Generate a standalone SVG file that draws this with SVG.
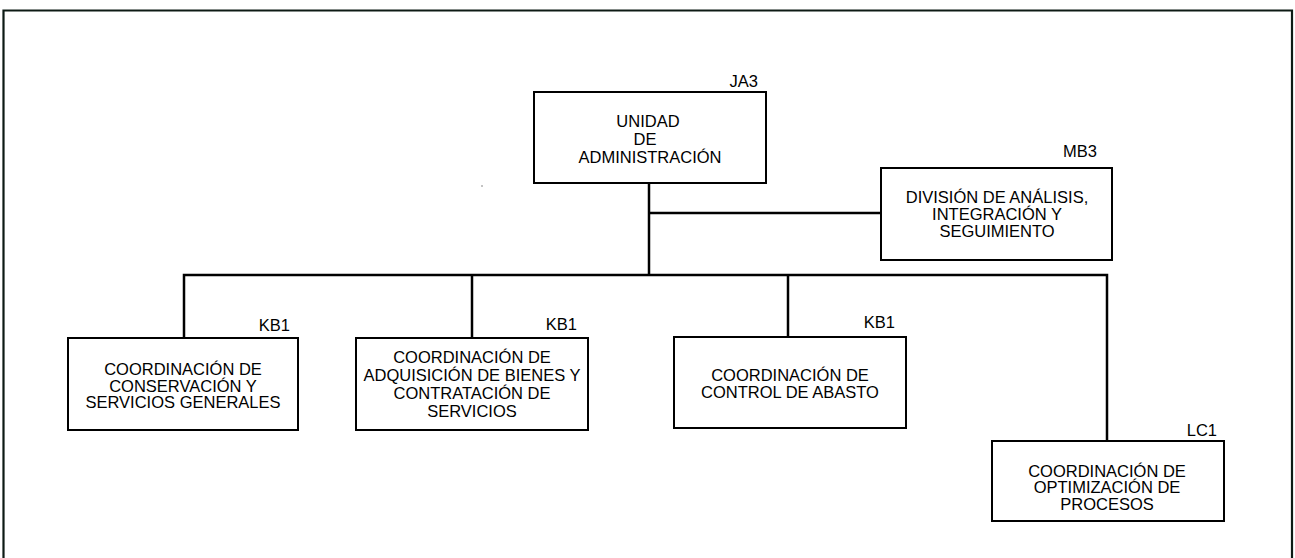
<svg xmlns="http://www.w3.org/2000/svg" width="1295" height="558" viewBox="0 0 1295 558">
<style>
.box{fill:#fff;stroke:#000;stroke-width:2}
.ln{stroke:#000;stroke-width:2.5;fill:none}
text{font-family:"Liberation Sans",Arial,sans-serif;font-size:16.5px;fill:#000}
.c{text-anchor:middle}
.r{text-anchor:end}
</style>
<rect width="1295" height="558" fill="#fff"/>
<path d="M3.5,570 V10.5 H1292 V570" fill="none" stroke="#0d1a14" stroke-width="2.2"/>
<line x1="482" y1="185" x2="482" y2="187" stroke="#888" stroke-width="1"/>
<g id="connectors">
<path class="ln" d="M649,183 V275"/>
<path class="ln" d="M649,213 H881"/>
<path class="ln" d="M184,338 V275 H1107 V441"/>
<path class="ln" d="M472,275 V338"/>
<path class="ln" d="M788,275 V337"/>
</g>
<g id="n-unidad">
<rect class="box" x="534" y="92" width="232" height="91"/>
<text class="r" x="758" y="87">JA3</text>
<text class="c" x="648" y="127">UNIDAD</text>
<text class="c" x="645" y="145">DE</text>
<text class="c" x="650" y="163">ADMINISTRACIÓN</text>
</g>
<g id="n-division">
<rect class="box" x="881" y="168" width="231" height="92"/>
<text class="r" x="1097" y="157">MB3</text>
<text class="c" x="997" y="203">DIVISIÓN DE ANÁLISIS,</text>
<text class="c" x="997" y="220">INTEGRACIÓN Y</text>
<text class="c" x="997" y="237">SEGUIMIENTO</text>
</g>
<g id="n-conservacion">
<rect class="box" x="68" y="338" width="230" height="92"/>
<text class="r" x="290" y="331">KB1</text>
<text class="c" x="183" y="375">COORDINACIÓN DE</text>
<text class="c" x="183" y="392">CONSERVACIÓN Y</text>
<text class="c" x="183" y="408">SERVICIOS GENERALES</text>
</g>
<g id="n-adquisicion">
<rect class="box" x="356" y="338" width="232" height="92"/>
<text class="r" x="577" y="330">KB1</text>
<text class="c" x="472" y="363">COORDINACIÓN DE</text>
<text class="c" x="472" y="381">ADQUISICIÓN DE BIENES Y</text>
<text class="c" x="472" y="399">CONTRATACIÓN DE</text>
<text class="c" x="472" y="417">SERVICIOS</text>
</g>
<g id="n-abasto">
<rect class="box" x="674" y="337" width="232" height="91"/>
<text class="r" x="895" y="328">KB1</text>
<text class="c" x="790" y="381">COORDINACIÓN DE</text>
<text class="c" x="790" y="398">CONTROL DE ABASTO</text>
</g>
<g id="n-optimizacion">
<rect class="box" x="992" y="441" width="232" height="80"/>
<text class="r" x="1217" y="436">LC1</text>
<text class="c" x="1107" y="477">COORDINACIÓN DE</text>
<text class="c" x="1107" y="493">OPTIMIZACIÓN DE</text>
<text class="c" x="1107" y="510">PROCESOS</text>
</g>
</svg>
